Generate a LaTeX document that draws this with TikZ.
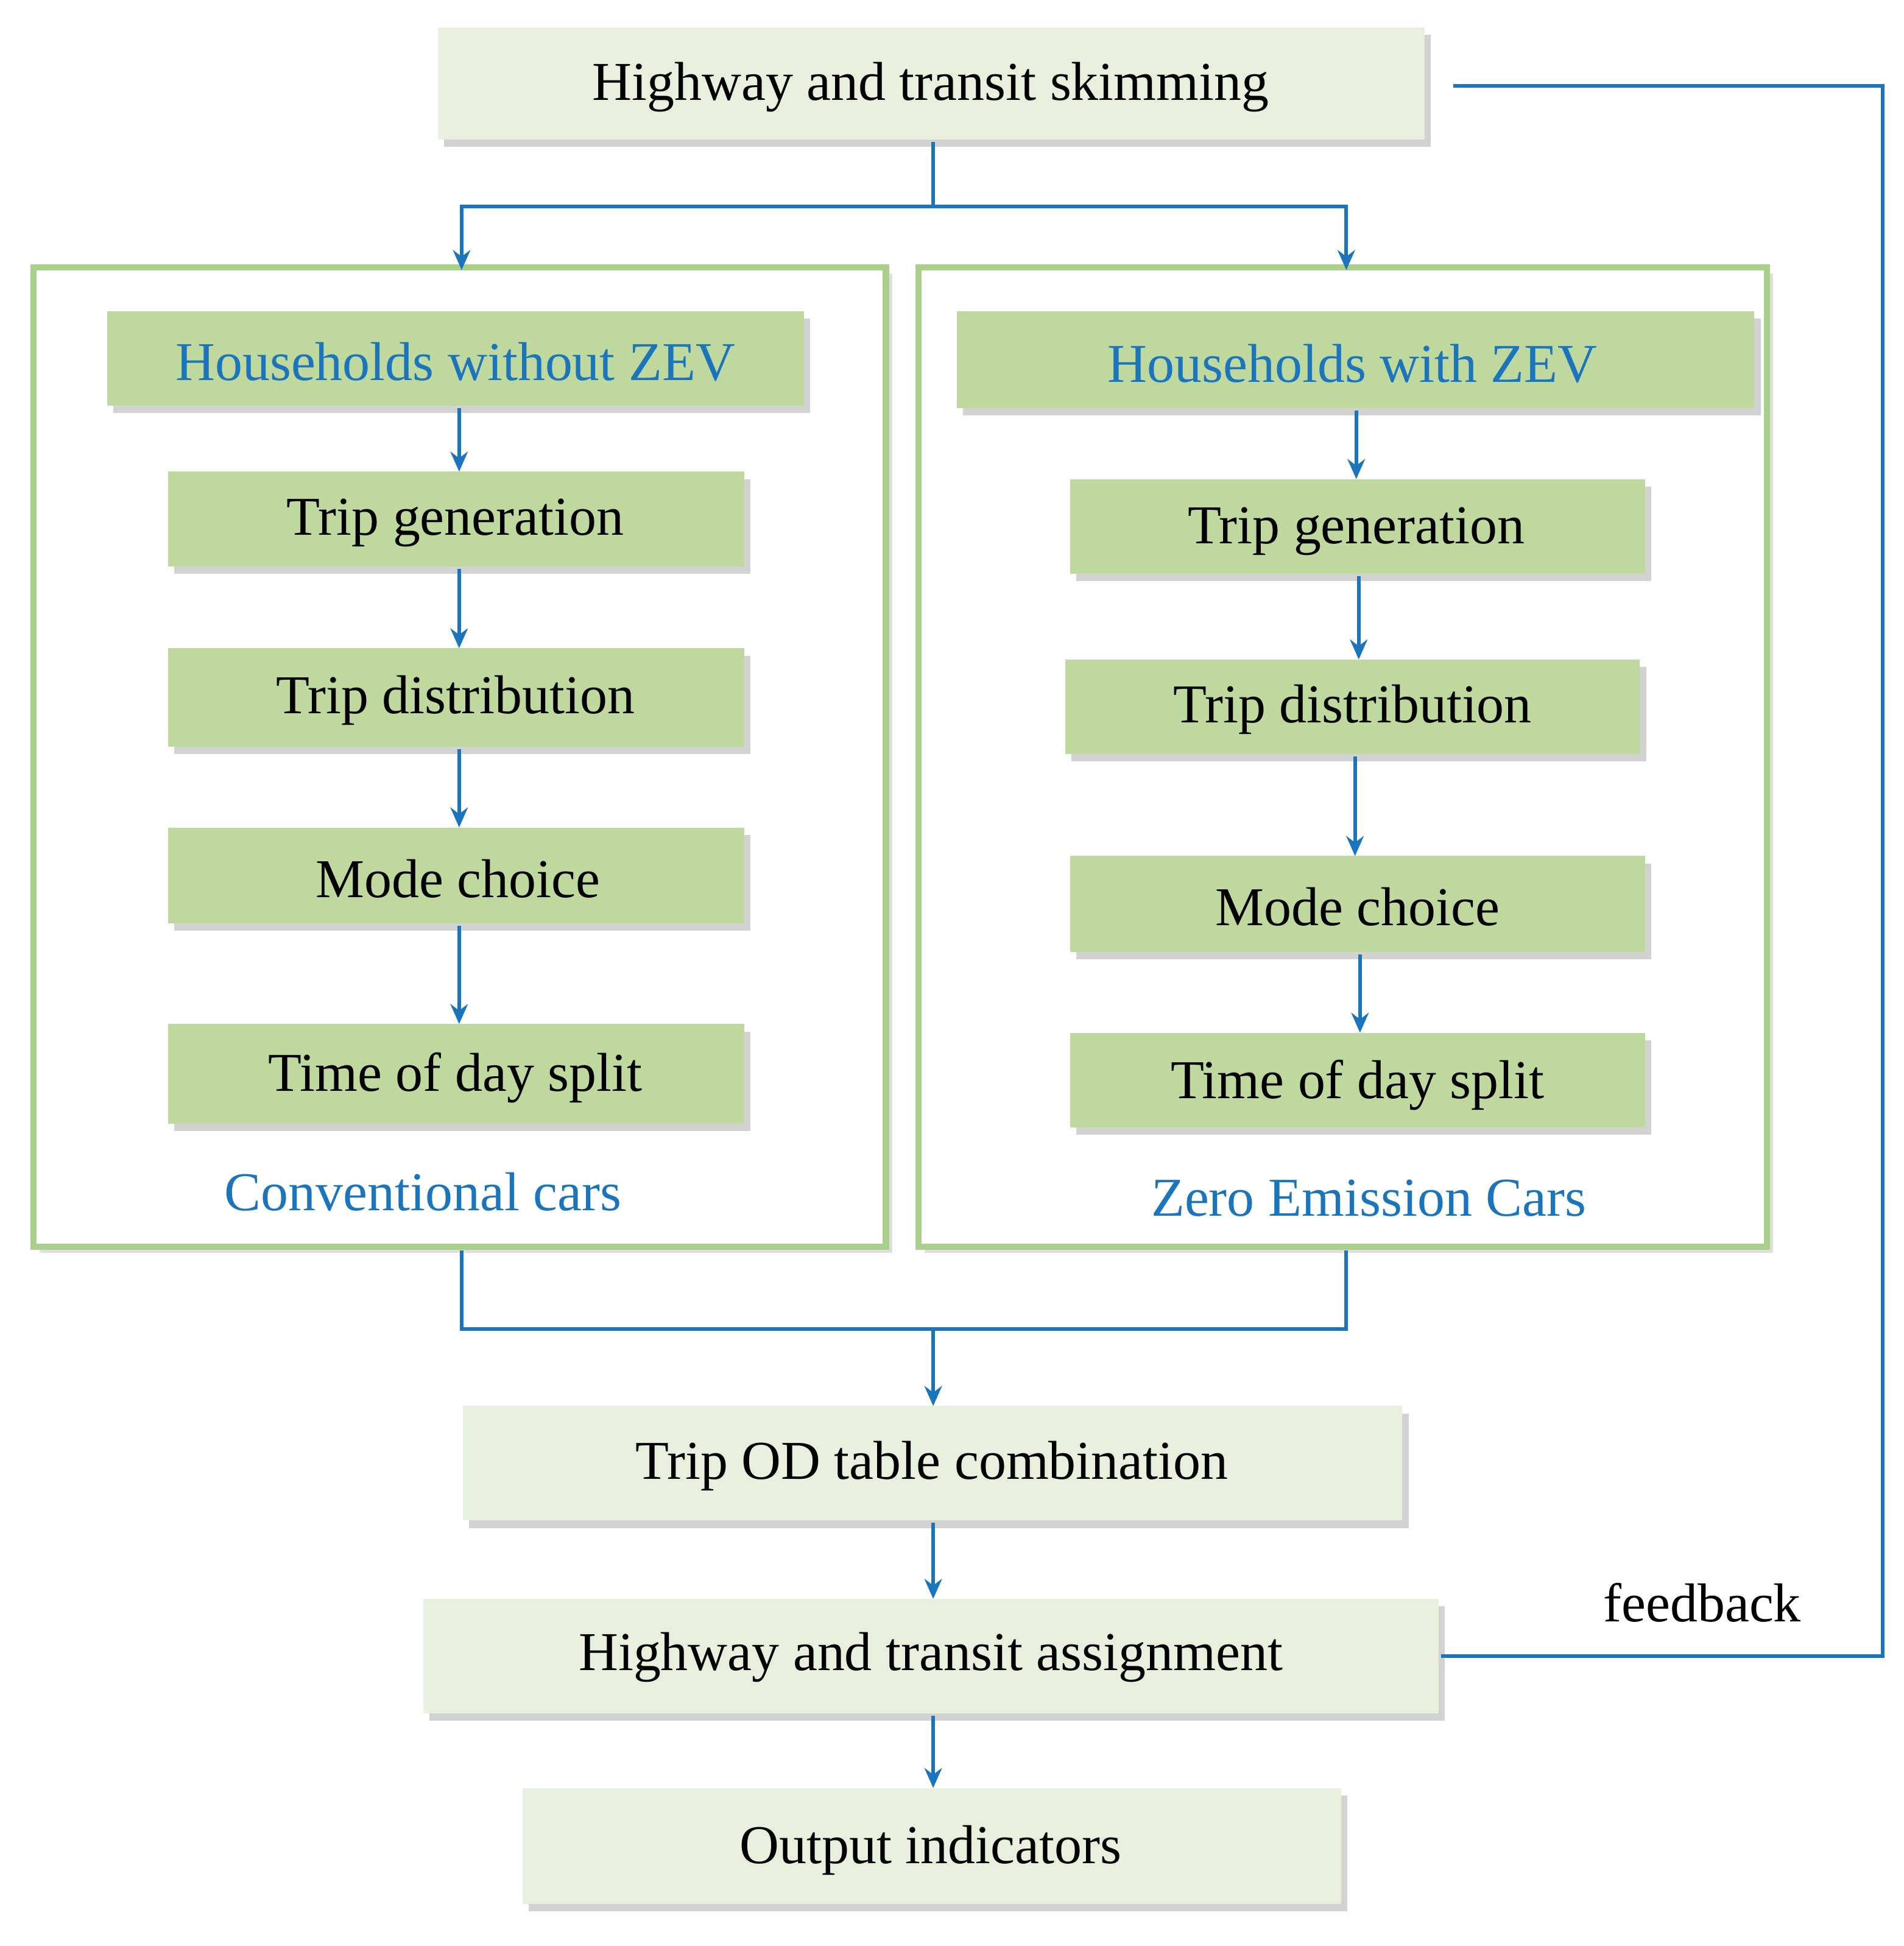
\documentclass[tikz,border=0pt]{standalone}
\usepackage{fontspec}
\setmainfont{Liberation Serif}
\usetikzlibrary{shadows,arrows.meta}
\definecolor{lg}{HTML}{E8EFDC}
\definecolor{mg}{HTML}{BFD89E}
\definecolor{fr}{HTML}{AACF8A}
\definecolor{bl}{HTML}{1B75BC}
\begin{document}
\begin{tikzpicture}[x=1pt,y=-1pt,
 box/.style={draw=none,fill=#1,drop shadow={shadow xshift=5pt,shadow yshift=-6pt,opacity=0.35}},
 frame/.style={draw=fr,line width=5pt,fill=white,drop shadow={shadow xshift=5pt,shadow yshift=-5pt,opacity=0.25}},
 txt/.style={font=\fontsize{44}{52}\selectfont},
 btxt/.style={font=\fontsize{44}{52}\selectfont,text=bl},
 ln/.style={draw=bl,line width=3pt},
 ar/.style={ln,-{Stealth[length=16pt,width=14pt]}}]
\useasboundingbox (0,0) rectangle (1530,1564);
\fill[white] (0,0) rectangle (1530,1564);
% frames
\path[frame] (27,215) rectangle (712,1002);
\path[frame] (738,215) rectangle (1420,1002);
% boxes
\path[box=lg] (352,22) rectangle (1145,112); \node[txt] (top) at (748,70) {Highway and transit skimming};
\path[box=mg] (86,250) rectangle (646,326); \node[btxt] (hl) at (366,291) {Households without ZEV};
\path[box=mg] (135,379) rectangle (598,455); \node[txt] (l1) at (366,420) {Trip generation};
\path[box=mg] (135,521) rectangle (598,600); \node[txt] (l2) at (366,563) {Trip distribution};
\path[box=mg] (135,665) rectangle (598,742); \node[txt] (l3) at (368,706) {Mode choice};
\path[box=mg] (135,823) rectangle (598,903); \node[txt] (l4) at (366,866) {Time of day split};
\path[box=mg] (769,250) rectangle (1410,328); \node[btxt] (hr) at (1087,292) {Households with ZEV};
\path[box=mg] (860,385) rectangle (1322,461); \node[txt] (r1) at (1090,427) {Trip generation};
\path[box=mg] (856,530) rectangle (1318,606); \node[txt] (r2) at (1087,570) {Trip distribution};
\path[box=mg] (860,688) rectangle (1322,765); \node[txt] (r3) at (1091,729) {Mode choice};
\path[box=mg] (860,830) rectangle (1322,906); \node[txt] (r4) at (1091,872) {Time of day split};
\node[btxt] (cl) at (340,958) {Conventional cars};
\node[btxt] (cr) at (1100,963) {Zero Emission Cars};
\path[box=lg] (372,1130) rectangle (1127,1222); \node[txt] (od) at (749,1178) {Trip OD table combination};
\path[box=lg] (340,1285) rectangle (1156,1377); \node[txt] (as) at (748,1332) {Highway and transit assignment};
\path[box=lg] (420,1437) rectangle (1078,1530); \node[txt] (out) at (748,1487) {Output indicators};
\node[txt] (fb) at (1368,1288) {feedback};
% coordinates
\coordinate (tb) at (750,114);
\coordinate (sp) at (750,166);
\coordinate (fl) at (371,217);
\coordinate (frr) at (1082,217);
\coordinate (bl1) at (371,1005);
\coordinate (br1) at (1082,1005);
\coordinate (odt) at (750,1130);
% arrows
\draw[ln] (tb) -- (sp);
\draw[ar] (sp) -- (371,166) -- (fl);
\draw[ar] (sp) -- (1082,166) -- (frr);
\draw[ar] (369,328) -- (369,379);
\draw[ar] (369,457) -- (369,521);
\draw[ar] (369,602) -- (369,665);
\draw[ar] (369,744) -- (369,823);
\draw[ar] (1090,330) -- (1090,385);
\draw[ar] (1092,463) -- (1092,530);
\draw[ar] (1089,608) -- (1089,688);
\draw[ar] (1093,767) -- (1093,830);
\draw[ln] (bl1) -- (371,1068) -- (1082,1068) -- (br1);
\draw[ar] (750,1068) -- (odt);
\draw[ar] (750,1224) -- (750,1285);
\draw[ar] (750,1379) -- (750,1437);
\draw[ln] (1158,1331) -- (1513,1331) -- (1513,69) -- (1168,69);
\end{tikzpicture}
\end{document}
